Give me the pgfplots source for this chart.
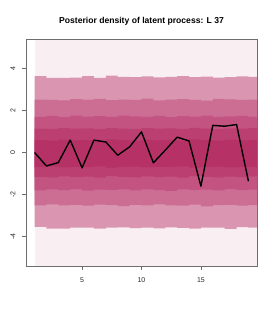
\documentclass[border=0pt]{standalone}
\usepackage{fontspec}
\setmainfont{Liberation Sans}
\usepackage{pgfplots}
\pgfplotsset{compat=1.18}

\definecolor{c0}{RGB}{249,238,242}
\definecolor{c1}{RGB}{218,150,176}
\definecolor{c2}{RGB}{204,110,148}
\definecolor{c3}{RGB}{195,84,129}
\definecolor{c4}{RGB}{187,64,113}
\definecolor{c5}{RGB}{182,50,102}
\definecolor{framec}{RGB}{110,110,110}

\begin{document}
\begin{tikzpicture}
\path (0,0) rectangle (275pt,314pt);
\begin{axis}[
  at={(26pt,48pt)}, anchor=south west,
  scale only axis, width=231pt, height=227pt,
  xmin=0.28, xmax=19.72, ymin=-5.4, ymax=5.4,
  xtick={5,10,15}, xticklabels={5,10,15},
  ytick={-4,-2,0,2,4}, yticklabels={-4,-2,0,2,4},
  tick align=outside, major tick length=4pt,
  xtick pos=bottom, ytick pos=left,
  axis line style={draw=framec, line width=0.8pt},
  tick style={draw=framec, line width=0.8pt},
  xticklabel style={font=\fontsize{7}{8}\selectfont, text=black!85, anchor=north, inner sep=0pt, yshift=-7.3pt},
  yticklabel shift=6.5pt,
  yticklabel style={font=\fontsize{7}{8}\selectfont, text=black!85, rotate=90, anchor=south, inner sep=0pt},
  title={Posterior density of latent process: L 37},
  title style={font=\bfseries\fontsize{8.6}{10}\selectfont, at={(0.5,1)}, anchor=base, yshift=9.7pt, inner sep=0pt},
  axis on top,
]
\addplot[fill=c0, draw=none] coordinates {(1,-5.4) (20,-5.4) (20,5.4) (1,5.4)} -- cycle;

% band 1
\addplot[const plot, fill=c1, draw=none] coordinates {
(1,3.63)(2,3.55)(3,3.55)(4,3.56)(5,3.63)(6,3.55)(7,3.66)(8,3.60)(9,3.58)(10,3.62)
(11,3.57)(12,3.60)(13,3.63)(14,3.58)(15,3.61)(16,3.56)(17,3.59)(18,3.62)(19,3.60)(20,3.60)
(20,-3.58)(19,-3.55)(18,-3.63)(17,-3.58)(16,-3.57)(15,-3.62)(14,-3.59)(13,-3.56)(12,-3.61)(11,-3.57)
(10,-3.60)(9,-3.56)(8,-3.58)(7,-3.62)(6,-3.58)(5,-3.58)(4,-3.62)(3,-3.62)(2,-3.54)(1,-3.54)} -- cycle;

% band 2
\addplot[const plot, fill=c2, draw=none] coordinates {
(1,2.52)(2,2.50)(3,2.48)(4,2.54)(5,2.51)(6,2.55)(7,2.49)(8,2.52)(9,2.50)(10,2.56)
(11,2.48)(12,2.51)(13,2.54)(14,2.50)(15,2.47)(16,2.55)(17,2.53)(18,2.50)(19,2.52)(20,2.52)
(20,-2.50)(19,-2.53)(18,-2.49)(17,-2.50)(16,-2.56)(15,-2.48)(14,-2.53)(13,-2.51)(12,-2.47)(11,-2.52)
(10,-2.49)(9,-2.55)(8,-2.50)(7,-2.48)(6,-2.53)(5,-2.49)(4,-2.52)(3,-2.47)(2,-2.51)(1,-2.51)} -- cycle;

% band 3
\addplot[const plot, fill=c3, draw=none] coordinates {
(1,1.70)(2,1.74)(3,1.68)(4,1.75)(5,1.71)(6,1.73)(7,1.69)(8,1.76)(9,1.72)(10,1.70)
(11,1.74)(12,1.68)(13,1.73)(14,1.71)(15,1.75)(16,1.69)(17,1.72)(18,1.74)(19,1.70)(20,1.70)
(20,-1.77)(19,-1.79)(18,-1.74)(17,-1.80)(16,-1.77)(15,-1.78)(14,-1.75)(13,-1.82)(12,-1.79)(11,-1.76)
(10,-1.80)(9,-1.75)(8,-1.78)(7,-1.77)(6,-1.81)(5,-1.74)(4,-1.79)(3,-1.76)(2,-1.80)(1,-1.80)} -- cycle;

% band 4
\addplot[const plot, fill=c4, draw=none] coordinates {
(1,1.14)(2,1.12)(3,1.16)(4,1.13)(5,1.15)(6,1.11)(7,1.17)(8,1.14)(9,1.12)(10,1.16)
(11,1.13)(12,1.15)(13,1.12)(14,1.17)(15,1.14)(16,1.11)(17,1.15)(18,1.13)(19,1.16)(20,1.16)
(20,-1.14)(19,-1.17)(18,-1.15)(17,-1.18)(16,-1.16)(15,-1.13)(14,-1.19)(13,-1.15)(12,-1.17)(11,-1.14)
(10,-1.18)(9,-1.16)(8,-1.13)(7,-1.19)(6,-1.15)(5,-1.17)(4,-1.14)(3,-1.18)(2,-1.16)(1,-1.16)} -- cycle;

% band 5
\addplot[const plot, fill=c5, draw=none] coordinates {
(1,0.59)(2,0.57)(3,0.61)(4,0.58)(5,0.60)(6,0.56)(7,0.62)(8,0.59)(9,0.57)(10,0.61)
(11,0.58)(12,0.60)(13,0.56)(14,0.62)(15,0.59)(16,0.57)(17,0.61)(18,0.58)(19,0.60)(20,0.60)
(20,-0.70)(19,-0.68)(18,-0.71)(17,-0.67)(16,-0.69)(15,-0.72)(14,-0.66)(13,-0.70)(12,-0.68)(11,-0.71)
(10,-0.67)(9,-0.69)(8,-0.72)(7,-0.66)(6,-0.70)(5,-0.68)(4,-0.71)(3,-0.67)(2,-0.69)(1,-0.69)} -- cycle;

\addplot[black, line width=1.4pt, line join=round] coordinates {
(1,0.00) (2,-0.64) (3,-0.48) (4,0.59) (5,-0.73) (6,0.59) (7,0.50) (8,-0.13)
(9,0.27) (10,0.98) (11,-0.49) (12,0.11) (13,0.73) (14,0.55) (15,-1.60)
(16,1.29) (17,1.25) (18,1.33) (19,-1.37)};
\end{axis}
\end{tikzpicture}
\end{document}
